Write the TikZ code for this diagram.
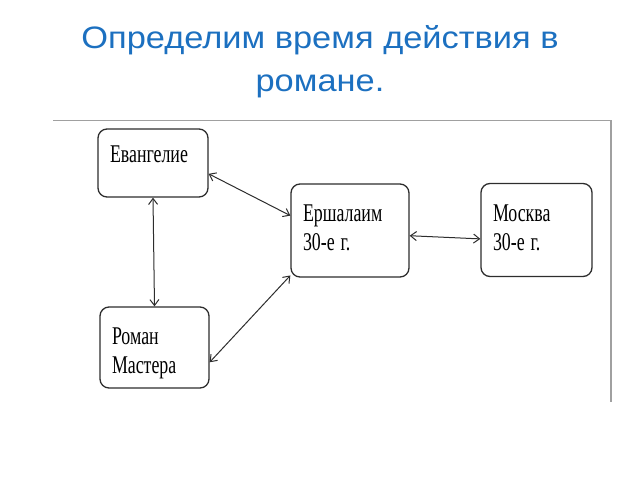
\documentclass[tikz,border=0pt]{standalone}
\usepackage{fontspec}
\setmainfont{Liberation Serif}
\newfontfamily\titlefont{Liberation Sans}
\usepackage{graphicx}
\usetikzlibrary{
  arrows.meta,
  positioning
}
\definecolor{titleblue}{RGB}{28,112,192}
\definecolor{framegray}{RGB}{160,160,160}
\definecolor{inkgray}{RGB}{45,45,45}
\newcommand{\squeeze}[1]{\scalebox{0.7}[1]{#1}}
\newcommand{\widen}[1]{\scalebox{1.11}[1]{#1}}

\begin{document}
\begin{tikzpicture}[x=1pt, y=-1pt,
  epochbox/.style={draw=inkgray, line width=1.3pt, rounded corners=9pt, align=left,
    inner xsep=12pt, inner ysep=0pt, font=\fontsize{25.5}{29}\selectfont},
  link/.style={{Straight Barb[length=6pt,width=9pt]}-{Straight Barb[length=6pt,width=9pt]},
    draw=inkgray, line width=1pt}]
  \useasboundingbox (0,0) rectangle (640,480);

  % Title
  \node[anchor=north, align=center, text=titleblue,
    font=\titlefont\fontsize{31}{43}\selectfont] (title) at (320,22)
    {\widen{Определим время действия в}\\\widen{романе.}};

  % Frame of the scanned scheme
  \draw[framegray, line width=1pt] (53,120) -- (611,120);
  \draw[framegray, line width=1.6pt] (611,120) -- (611,402);

  % Boxes
  \node[epochbox, minimum width=110pt, minimum height=68pt, text width=86pt,
    text depth=18pt] (evang) at (153,163) {\squeeze{Евангелие}};
  \node[epochbox, minimum width=118pt, minimum height=93pt, text width=94pt,
    text depth=34pt] (ersh) at (350,230.5) {\squeeze{Ершалаим}\\\squeeze{30-е г.}};
  \node[epochbox, minimum width=111pt, minimum height=93pt, text width=87pt,
    text depth=34pt] (mosk) at (536.5,230) {\squeeze{Москва}\\\squeeze{30-е г.}};
  \node[epochbox, minimum width=109pt, minimum height=81pt, text width=85pt,
    text depth=22pt] (roman) at (154.5,347.5) {\squeeze{Роман}\\\squeeze{Мастера}};

  % Links
  \draw[link] (evang.south) -- (roman.north);
  \draw[link] (evang.-11) -- (ersh.166);
  \draw[link] (roman.-15) -- (ersh.217);
  \draw[link] (ersh.-5) -- (mosk.189);
\end{tikzpicture}
\end{document}
